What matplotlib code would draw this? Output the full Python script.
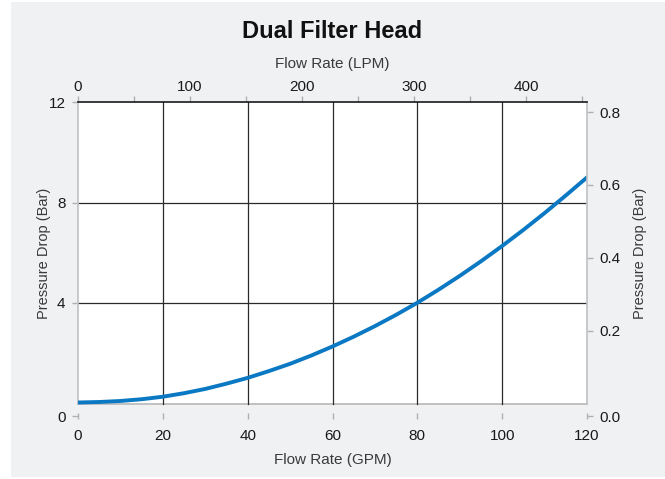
import matplotlib
matplotlib.use("Agg")
import matplotlib.pyplot as plt
from matplotlib.patches import Rectangle

plt.rcParams['font.family'] = ['Liberation Sans', 'DejaVu Sans']

# Data
flow_gpm = [0, 5, 10, 15, 20, 25, 30, 35, 40, 45, 50, 55, 60,
            65, 70, 75, 80, 85, 90, 95, 100, 105, 110, 115, 120]
pressure = [0.04, 0.06, 0.10, 0.17, 0.27, 0.41, 0.58, 0.79, 1.02, 1.29, 1.58, 1.91, 2.27,
            2.66, 3.08, 3.53, 4.01, 4.53, 5.08, 5.66, 6.27, 6.91, 7.58, 8.28, 9.00]

gpm_ticks = [0, 20, 40, 60, 80, 100, 120]
lpm_major = [0, 100, 200, 300, 400]
lpm_minor = [50, 150, 250, 350, 450]
left_ticks = [4, 8, 12]
right_ticks = [0.2, 0.4, 0.6, 0.8]

title = "Dual Filter Head"
xlabel_bottom = "Flow Rate (GPM)"
xlabel_top = "Flow Rate (LPM)"
ylabel = "Pressure Drop (Bar)"

GPM_TO_LPM = 3.785
LEFT_TO_RIGHT = 14.5

W, H = 665, 479
fig = plt.figure(figsize=(W / 100, H / 100), dpi=100)
fig.patch.set_facecolor('white')
bg = '#f0f1f3'
fig.patches.append(Rectangle((11 / W, 1 - 477 / H), (W - 11) / W, 475 / H,
                             transform=fig.transFigure, facecolor=bg,
                             edgecolor='none', zorder=-10))

x0, x1 = 78, 587
ytop, ybot = 102, 416
ax = fig.add_axes([x0 / W, 1 - ybot / H, (x1 - x0) / W, (ybot - ytop) / H])
ax.set_facecolor('none')

px_per_unit = (403.5 - ytop) / 12.0
ymin = -(ybot - 403.5) / px_per_unit
ax.set_xlim(0, 120)
ax.set_ylim(ymin, 12)

ax.add_patch(Rectangle((0, 0), 120, 12, facecolor='white', edgecolor='none', zorder=0))
ax.plot([0, 120], [0, 0], color='#b8b8b8', lw=1.2, zorder=1, clip_on=False)

for gx in gpm_ticks[1:-1]:
    ax.plot([gx, gx], [0, 12], color='#2a2a2a', lw=0.9, zorder=1)
for gy in left_ticks[:-1]:
    ax.plot([0, 120], [gy, gy], color='#2a2a2a', lw=0.9, zorder=1)

ax.plot(flow_gpm, pressure, color='#0a78c2', lw=2.8, zorder=3, solid_capstyle='round')

tick_color = '#b0b0b0'
lab_color = '#1a1a1a'
axlab_color = '#3a3a3a'

ax.spines['bottom'].set_visible(False)
ax.spines['top'].set_visible(False)
ax.spines['right'].set_visible(False)
ax.spines['left'].set_color('#c0c0c0')
ax.spines['left'].set_linewidth(1.2)
ax.spines['left'].set_bounds(0, 12)

ax.set_xticks(gpm_ticks)
ax.set_xticklabels([str(v) for v in gpm_ticks])
ax.tick_params(axis='x', direction='inout', length=5, width=1, color=tick_color,
               pad=7, labelsize=11, labelcolor=lab_color)
ax.set_yticks([ymin] + left_ticks)
ax.set_yticklabels(['0'] + [str(v) for v in left_ticks])
ax.tick_params(axis='y', direction='out', length=4, width=1, color=tick_color,
                pad=5, labelsize=11, labelcolor=lab_color)
ax.set_xlabel(xlabel_bottom, fontsize=11, color=axlab_color)
ax.xaxis.set_label_coords(0.5, -(460 - ybot) / (ybot - ytop))
ax.xaxis.label.set_va('center')
ax.set_ylabel(ylabel, fontsize=10.5, color=axlab_color)
ax.yaxis.set_label_coords((44 - x0) / (x1 - x0), (ybot - 253) / (ybot - ytop))
ax.yaxis.label.set_va('center')

# Right axis
axr = ax.twinx()
axr.set_ylim(ymin / LEFT_TO_RIGHT, 12 / LEFT_TO_RIGHT)
for s in ['top', 'bottom', 'left']:
    axr.spines[s].set_visible(False)
axr.spines['right'].set_color('#c0c0c0')
axr.spines['right'].set_linewidth(1.2)
axr.spines['right'].set_bounds(0, 12 / LEFT_TO_RIGHT)
axr.set_yticks([ymin / LEFT_TO_RIGHT] + right_ticks)
axr.set_yticklabels(['0.0'] + ['%.1f' % v for v in right_ticks])
axr.tick_params(axis='y', direction='out', length=4, width=1, color=tick_color,
                pad=5, labelsize=11, labelcolor=lab_color)
axr.set_ylabel(ylabel, fontsize=10.5, color=axlab_color)
axr.yaxis.set_label_coords((640 - x0) / (x1 - x0), (ybot - 253) / (ybot - ytop))
axr.yaxis.label.set_va('center')

# Top axis
axt = ax.twiny()
axt.set_xlim(0, 120 * GPM_TO_LPM)
for s in ['bottom', 'left', 'right']:
    axt.spines[s].set_visible(False)
axt.spines['top'].set_color('#1a1a1a')
axt.spines['top'].set_linewidth(1.2)
axt.set_xticks(lpm_major)
axt.set_xticklabels([str(v) for v in lpm_major])
axt.set_xticks(lpm_minor, minor=True)
axt.tick_params(axis='x', which='both', direction='out', length=4, width=1,
                color=tick_color, pad=2, labelsize=11, labelcolor=lab_color)
axt.set_xlabel(xlabel_top, fontsize=11, color=axlab_color)
axt.xaxis.set_label_coords(0.5, (ybot - 64) / (ybot - ytop))
axt.xaxis.label.set_va('center')

fig.text(332 / W, 1 - 32 / H, title, ha='center', va='center',
         fontsize=17, fontweight='bold', color='#111111')

fig.savefig('out.png', dpi=100)
